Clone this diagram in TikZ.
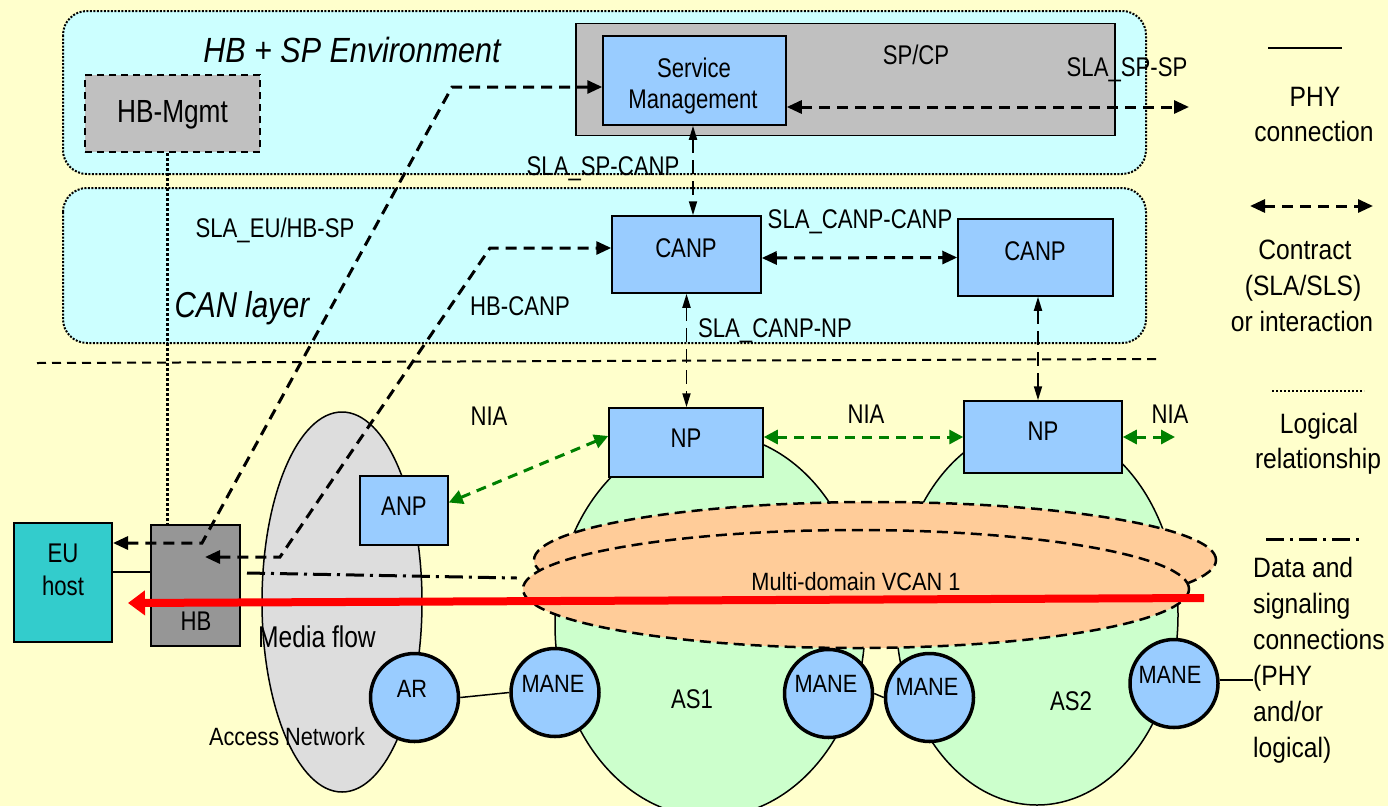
\documentclass[tikz,border=0pt]{standalone}
\usepackage{fontspec}
\setmainfont{Liberation Sans}
\newfontfamily\nf[FakeStretch=0.82]{Liberation Sans}
\newfontfamily\wf[FakeStretch=0.87]{Liberation Sans}
\newfontfamily\lf[FakeStretch=0.88]{Liberation Sans}
\usetikzlibrary{arrows.meta,shapes.geometric}
\definecolor{bgyellow}{HTML}{FFFFCC}
\definecolor{regioncyan}{HTML}{CCFFFF}
\definecolor{spgray}{HTML}{C0C0C0}
\definecolor{boxblue}{HTML}{99CCFF}
\definecolor{euteal}{HTML}{33CCCC}
\definecolor{hbgray}{HTML}{969696}
\definecolor{angray}{HTML}{DDDDDD}
\definecolor{asgreen}{HTML}{CCFFCC}
\definecolor{vcanorange}{HTML}{FFCC99}
\definecolor{niagreen}{HTML}{008000}
\newcommand\fsz[2]{\fontsize{#1}{#2}\selectfont}
\begin{document}
\begin{tikzpicture}[x=1pt,y=-1pt,
  region/.style={draw, line width=2pt, dash pattern=on 2pt off 1.5pt, fill=regioncyan, rounded corners=24pt},
  bluebox/.style={draw, line width=1.5pt, fill=boxblue, inner sep=0pt},
  grayregion/.style={draw, line width=1.5pt, inner sep=0pt},
  lbl/.style={font=\nf\fsz{27}{31}, inner sep=0pt, anchor=base},
  smalllbl/.style={font=\wf\fsz{25}{29}, inner sep=0pt, anchor=base},
  leg/.style={font=\lf\fsz{28}{34}, inner sep=0pt, anchor=base},
  legleft/.style={font=\lf\fsz{28}{34}, inner sep=0pt, anchor=base west},
  contract/.style={line width=3pt, dash pattern=on 11pt off 7pt, {Triangle[length=15pt,width=13pt]}-{Triangle[length=15pt,width=13pt]}},
  vcontract/.style={line width=1.8pt, dash pattern=on 14pt off 7pt, {Triangle[length=14pt,width=8pt]}-{Triangle[length=14pt,width=8pt]}},
  niaarrow/.style={color=niagreen, line width=3pt, dash pattern=on 10pt off 7pt, {Triangle[length=14pt,width=14pt]}-{Triangle[length=14pt,width=14pt]}},
  phy/.style={line width=1.5pt},
  logical/.style={line width=2.5pt, dash pattern=on 2.5pt off 2.5pt},
  datalink/.style={line width=3pt, dash pattern=on 18pt off 6pt on 3pt off 6pt},
  mediaflow/.style={color=red, line width=8pt, -{Triangle[length=17pt,width=24pt]}},
  circ/.style={circle, draw, line width=3.5pt, fill=boxblue, minimum size=88pt, inner sep=0pt},
  netarea/.style={ellipse, draw, line width=1.5pt, inner sep=0pt},
  vcan/.style={ellipse, draw, line width=2.5pt, dash pattern=on 11pt off 6pt, fill=vcanorange, inner sep=0pt}
]
% background
\fill[bgyellow] (0,0) rectangle (1388,806);
\useasboundingbox (0,0) rectangle (1388,806);

% regions
\draw[region] (63,11) rectangle (1146,174);
\draw[region] (63,188) rectangle (1146,343);

% SP/CP and service management
\node[grayregion, fill=spgray, minimum width=539pt, minimum height=112pt] (SPCP) at (845.5,79.5) {};
\node[bluebox, minimum width=183pt, minimum height=89pt] (SM) at (694.5,80.5) {};
\node[draw, line width=2pt, dash pattern=on 7pt off 5pt, fill=spgray, inner sep=0pt, minimum width=175pt, minimum height=77pt] (HBM) at (172.5,113.5) {};

% CAN layer
\node[bluebox, minimum width=149pt, minimum height=77pt] (CANP1) at (686.5,254.5) {};
\node[bluebox, minimum width=155pt, minimum height=77pt] (CANP2) at (1035.5,257.5) {};

% separator
\coordinate (sepL) at (37,363);
\coordinate (sepR) at (1160,359);
\draw[line width=2pt, dash pattern=on 9pt off 6pt] (sepL) -- (sepR);

% domains
\node[netarea, fill=angray, minimum width=160pt, minimum height=380pt] (AN) at (342,602) {};
\node[netarea, fill=asgreen, minimum width=310pt, minimum height=384pt] (AS1) at (710,625) {};
\node[netarea, fill=asgreen, minimum width=282pt, minimum height=380pt] (AS2) at (1037,615) {};

% network providers
\node[bluebox, minimum width=154pt, minimum height=69pt] (NP1) at (686,442.5) {};
\node[bluebox, minimum width=158pt, minimum height=72pt] (NP2) at (1043,437) {};
\node[bluebox, minimum width=88pt, minimum height=69pt] (ANP) at (404,510.5) {};

% VCAN
\node[vcan, minimum width=682pt, minimum height=116pt] (vcanB) at (875,560) {};
\node[vcan, minimum width=666pt, minimum height=118pt] (vcanF) at (856,589) {};

% routers
\node[circ] (AR) at (414.5,697.5) {};
\node[circ] (MANE1) at (555,692.5) {};
\node[circ] (MANE2) at (828.5,693.5) {};
\node[circ] (MANE3) at (929.5,697.5) {};
\node[circ] (MANE4) at (1174,683.5) {};

% end user
\node[draw, line width=2pt, fill=euteal, inner sep=0pt, minimum width=98pt, minimum height=119pt] (EU) at (63,582.5) {};
\node[draw, line width=2pt, fill=hbgray, inner sep=0pt, minimum width=89pt, minimum height=121pt] (HB) at (195.5,585.5) {};

% texts
\node[font=\wf\itshape\fsz{35}{40}, inner sep=0pt, anchor=base] (tEnv) at (352,62) {HB + SP Environment};
\node[font=\nf\itshape\fsz{36}{40}, inner sep=0pt, anchor=base] (tCAN) at (242,317) {CAN layer};
\node[font=\nf\fsz{32}{36}, inner sep=0pt, anchor=base] (tHBM) at (172.5,122) {HB-Mgmt};
\node[lbl] (tSPCP) at (916,64) {SP/CP};
\node[lbl] (tSLAspsp) at (1127,76) {SLA\_SP-SP};
\node[lbl] (tServ) at (694,77) {Service};
\node[lbl] (tMgmt) at (693,108) {Management};
\node[lbl] (tSLAspcanp) at (603,175) {SLA\_SP-CANP};
\node[lbl] (tSLAeu) at (275,237) {SLA\_EU/HB-SP};
\node[lbl] (tSLAcc) at (860,228) {SLA\_CANP-CANP};
\node[lbl] (tHBCANP) at (520,315) {HB-CANP};
\node[lbl] (tSLAcnp) at (775,337) {SLA\_CANP-NP};
\node[lbl] (tCANP1) at (686,257) {CANP};
\node[lbl] (tCANP2) at (1035,260) {CANP};
\node[lbl] (tNIA1) at (489,425) {NIA};
\node[lbl] (tNIA2) at (866,423) {NIA};
\node[lbl] (tNIA3) at (1170,423) {NIA};
\node[lbl] (tNP1) at (686,447) {NP};
\node[lbl] (tNP2) at (1043,440) {NP};
\node[lbl] (tANP) at (404,515) {ANP};
\node[lbl] (tEU) at (63,562) {EU};
\node[lbl] (tHost) at (63,595) {host};
\node[lbl] (tHB) at (196,630) {HB};
\node[smalllbl] (tVCAN) at (856,590) {Multi-domain VCAN 1};
\node[font=\nf\fsz{30}{34}, inner sep=0pt, anchor=base] (tMedia) at (317,647) {Media flow};
\node[smalllbl] (tAccess) at (287,745) {Access Network};
\node[lbl] (tAS1) at (692,708) {AS1};
\node[lbl] (tAS2) at (1071,710) {AS2};
\node[smalllbl] (tAR) at (412,697) {AR};
\node[smalllbl] (tM1) at (553,692) {MANE};
\node[smalllbl] (tM2) at (826,692) {MANE};
\node[smalllbl] (tM3) at (927,695) {MANE};
\node[smalllbl] (tM4) at (1170,683) {MANE};

% connectors
\coordinate (euBend) at (202,543);
\coordinate (euTop) at (452,87);
\draw[contract] ([yshift=39.5pt]EU.east) -- (euBend) -- (euTop) -- ([yshift=-6.5pt]SM.west);
\coordinate (hbTip) at ([xshift=9.5pt,yshift=28.5pt]HB.center);
\coordinate (hcBend) at (280,557);
\coordinate (hcTop) at (490,248);
\draw[contract] (hbTip) -- (hcBend) -- (hcTop) -- ([yshift=6.5pt]CANP1.west);
\coordinate (smExt) at (1189,107);
\draw[contract] ([yshift=-26.5pt]SM.east) -- (smExt);
\draw[contract] ([yshift=-3.5pt]CANP1.east) -- (CANP2.west);
\draw[vcontract] ([xshift=-1.5pt]SM.south) -- ([xshift=-1.5pt]SM.south |- CANP1.north);
\draw[vcontract] (CANP1.south) -- (CANP1.south |- NP1.north);
\draw[vcontract] ([xshift=2.5pt]CANP2.south) -- ([xshift=2.5pt]CANP2.south |- NP2.north);
\draw[niaarrow] ([yshift=8pt]ANP.east) -- ([yshift=6.5pt]NP1.west);
\draw[niaarrow] ([yshift=5.5pt]NP1.east) -- (NP2.west);
\coordinate (niaExt) at (1175,437);
\draw[niaarrow] (NP2.east) -- (niaExt);
\draw[logical] ([xshift=-5pt]HBM.south) -- ([xshift=-5pt]HBM.south |- HB.north);
\draw[phy] ([yshift=10.5pt]EU.east) -- ([yshift=10.5pt]EU.east -| HB.west);
\draw[datalink] ([xshift=6pt,yshift=12.5pt]HB.east) -- ([xshift=-5pt,yshift=11pt]vcanF.west);
\coordinate (flowStart) at (1204,598);
\draw[mediaflow] (flowStart) -- ([xshift=15pt,yshift=-20.5pt]EU.east);
\draw[phy] (AR.east) -- (MANE1.west);
\draw[phy] (MANE2.east) -- (MANE3.west);
\coordinate (legPHYtxt) at (1253,680);
\draw[phy] ([yshift=3.5pt]MANE4.east) -- (legPHYtxt);

% legend
\coordinate (l1a) at (1268,48); \coordinate (l1b) at (1342,48);
\draw[line width=2pt] (l1a) -- (l1b);
\node[leg] (lg1) at (1315,106) {PHY};
\node[leg] (lg2) at (1314,141) {connection};
\coordinate (l2a) at (1250,206); \coordinate (l2b) at (1373,206);
\draw[contract] (l2a) -- (l2b);
\node[leg] (lg3) at (1305,259) {Contract};
\node[leg] (lg4) at (1303,295) {(SLA/SLS)};
\node[leg] (lg5) at (1302,331) {or interaction};
\coordinate (l3a) at (1272,391); \coordinate (l3b) at (1364,391);
\draw[line width=2.5pt, dash pattern=on 2pt off 2pt] (l3a) -- (l3b);
\node[leg] (lg6) at (1319,433) {Logical};
\node[leg] (lg7) at (1318,468) {relationship};
\coordinate (l4a) at (1266,539); \coordinate (l4b) at (1362,539);
\draw[datalink] (l4a) -- (l4b);
\node[legleft] (lg8) at (1253,577) {Data and};
\node[legleft] (lg9) at (1253,613) {signaling};
\node[legleft] (lg10) at (1253,649) {connections};
\node[legleft] (lg11) at (1253,685) {(PHY};
\node[legleft] (lg12) at (1253,721) {and/or};
\node[legleft] (lg13) at (1253,757) {logical)};
\end{tikzpicture}
\end{document}
